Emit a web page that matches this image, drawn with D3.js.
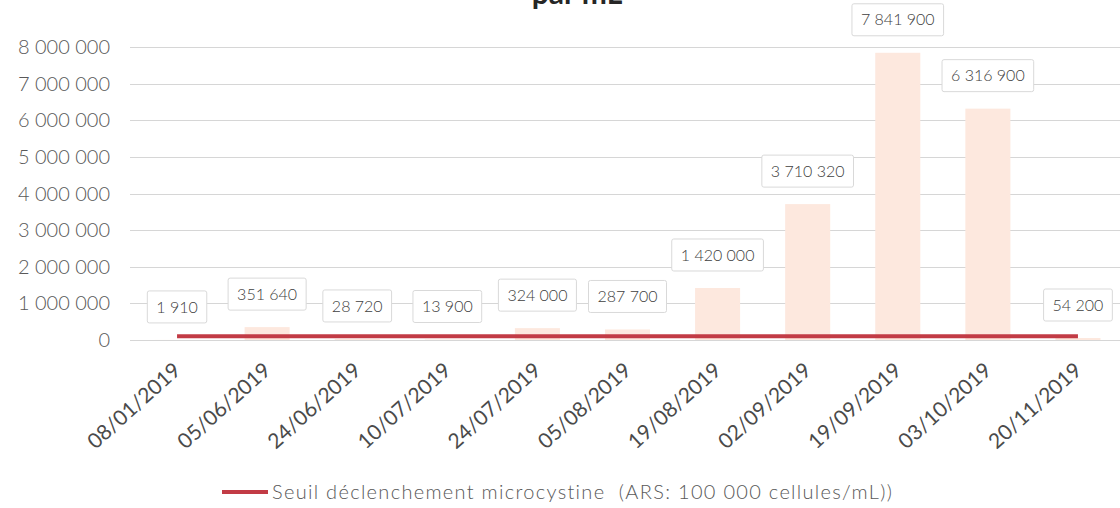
<!DOCTYPE html>
<html>
<head>
<meta charset="utf-8">
<script src="https://cdn.jsdelivr.net/npm/d3@7"></script>
<style>
    body { margin: 0; background: #fff; }
    svg { display: block; font-family: Lato, "Open Sans", sans-serif; }
    .grid line { stroke: #d6d6d6; stroke-width: 1; }
    .ylab { fill: #595959; font-size: 20px; font-weight: 300; }
    .xlab { fill: #4a4a4a; font-size: 21px; }
    .callout rect { fill: #fff; stroke: #d9d9d9; stroke-width: 1; }
    .callout text { fill: #404040; font-size: 16px; font-weight: 300; }
</style>
</head>
<body>
<svg width="1120" height="508"></svg>
<script>
const dates = ["08/01/2019", "05/06/2019", "24/06/2019", "10/07/2019", "24/07/2019", "05/08/2019",
    "19/08/2019", "02/09/2019", "19/09/2019", "03/10/2019", "20/11/2019"];
const cells = [1910, 351640, 28720, 13900, 324000, 287700, 1420000, 3710320, 7841900, 6316900, 54200];
const threshold = [100000, 100000, 100000, 100000, 100000, 100000, 100000, 100000, 100000, 100000, 100000];
const yTicks = [0, 1000000, 2000000, 3000000, 4000000, 5000000, 6000000, 7000000, 8000000];
const title = "par mL";
const legendLabel = "Seuil déclenchement microcystine  (ARS: 100 000 cellules/mL))";

var svg = d3.select("svg"),
    width = +svg.attr("width"),
    height = +svg.attr("height");

const fr = d3.formatLocale({ decimal: ",", thousands: " ", grouping: [3], currency: ["", ""] });
const fmt = fr.format(",d");

var x = d3.scaleBand().domain(dates).range([132, 1123]).paddingInner(0.5).paddingOuter(0.25);
var y = d3.scaleLinear().domain([0, 8000000]).range([340, 47]);
const cx = d => x(d) + x.bandwidth() / 2;

// title (only the bottom of it is in the frame)
svg.append("text")
    .attr("x", 577).attr("y", 4)
    .attr("text-anchor", "middle")
    .style("font-size", "30px").style("font-weight", "bold").style("fill", "#262626")
    .text(title);

// gridlines
svg.append("g").attr("class", "grid")
    .selectAll("line").data(yTicks).enter().append("line")
    .attr("x1", 130).attr("x2", 1120)
    .attr("y1", d => Math.round(y(d)) + 0.5).attr("y2", d => Math.round(y(d)) + 0.5);

svg.append("g").selectAll("text").data(yTicks).enter().append("text")
    .attr("class", "ylab")
    .attr("x", 110).attr("y", d => y(d)).attr("dy", "0.35em")
    .attr("text-anchor", "end")
    .text(d => fmt(d));

// bars
svg.append("g").selectAll("rect").data(cells).enter().append("rect")
    .attr("x", (d, i) => x(dates[i]))
    .attr("width", x.bandwidth())
    .attr("y", d => y(d))
    .attr("height", d => y(0) - y(d))
    .attr("fill", "#fde8de");

// threshold line
var line = d3.line().x((d, i) => cx(dates[i])).y(d => y(d));
svg.append("path").datum(threshold)
    .attr("d", line)
    .attr("fill", "none").attr("stroke", "#c23b45").attr("stroke-width", 4);

// data callouts
var call = svg.append("g").selectAll("g").data(cells).enter().append("g")
    .attr("class", "callout")
    .attr("transform", (d, i) => `translate(${cx(dates[i])},${y(d) - 33})`);
call.append("text")
    .attr("text-anchor", "middle").attr("dy", "0.35em")
    .text(d => fmt(d));
call.each(function () {
    const g = d3.select(this), b = g.select("text").node().getBBox();
    g.insert("rect", "text")
        .attr("x", b.x - 9).attr("y", -16)
        .attr("width", b.width + 18).attr("height", 32)
        .attr("rx", 2);
});

// x labels
svg.append("g").selectAll("text").data(dates).enter().append("text")
    .attr("class", "xlab")
    .attr("text-anchor", "end")
    .attr("transform", d => `translate(${cx(d) + 5},${372}) rotate(-42)`)
    .text(d => d);

// legend
svg.append("line")
    .attr("x1", 222).attr("x2", 268).attr("y1", 492).attr("y2", 492)
    .attr("stroke", "#c23b45").attr("stroke-width", 4);
svg.append("text")
    .attr("x", 272).attr("y", 499)
    .style("font-size", "20px").style("font-weight", 300).style("fill", "#595959")
    .style("letter-spacing", "1.3px").style("white-space", "pre")
    .text(legendLabel);
</script>
</body>
</html>
